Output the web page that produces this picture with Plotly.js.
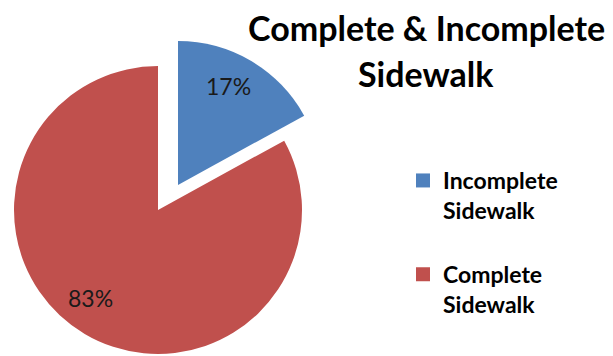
<!DOCTYPE html>
<html>
<head>
<meta charset="utf-8">
<script src="https://cdn.plot.ly/plotly-3.0.1.min.js"></script>
<style>html,body{margin:0;padding:0;background:#fff;}#chart{width:613px;height:356px;}</style>
</head>
<body>
<div id="chart"></div>
<script>
// ---- data ----
const categories = ["Incomplete<br>Sidewalk", "Complete<br>Sidewalk"];
const values = [17, 83];
const sliceColors = ["#4F81BD", "#C0504D"];
const titleLines = ["Complete & Incomplete", "Sidewalk"];

// ---- geometry (pixels) ----
const W = 613, H = 356;
const R = 144;
const centres = [[178, 185], [158, 210]]; // exploded slice, main body
function domainFor(cx, cy, r) {
  return {
    x: [(cx - r) / W, (cx + r) / W],
    y: [(H - (cy + r)) / H, (H - (cy - r)) / H]
  };
}
const clear = "rgba(0,0,0,0)";
const FONT = "Lato, 'Open Sans', sans-serif";

function pieTrace(k) {
  return {
    type: "pie", labels: categories, values: values, sort: false,
    direction: "clockwise", rotation: 0,
    marker: {colors: sliceColors.map((c, i) => i === k ? c : clear), line: {width: 0}},
    textinfo: "none",
    domain: domainFor(centres[k][0], centres[k][1], R),
    showlegend: false, hoverinfo: "label+percent"
  };
}

// percent labels placed near each slice's bisector
const total = values.reduce((a, b) => a + b, 0);
const labelTurn = [-0.06, 0.12]; // small angular offsets (radians) as in the reference
let cum = 0;
const pctAnnotations = values.map((v, i) => {
  const mid = (cum + v / 2) / total * 2 * Math.PI + labelTurn[i]; cum += v;
  const d = 0.77 * R;
  const px = centres[i][0] + d * Math.sin(mid);
  const py = centres[i][1] - d * Math.cos(mid);
  return {
    text: Math.round(v / total * 100) + "%", showarrow: false,
    xref: "paper", yref: "paper", x: px / W, y: 1 - py / H,
    xanchor: "center", yanchor: "middle",
    font: {family: FONT, size: 23, color: "#1a1a1a"}
  };
});

const titleAnnotations = titleLines.map((t, i) => ({
  text: t, showarrow: false, xref: "paper", yref: "paper",
  x: 426 / W, y: 1 - [27, 73][i] / H, xanchor: "center", yanchor: "middle",
  font: {family: FONT, size: 34, color: "#000", weight: "bold"}
}));

// legend entries
const legendTraces = categories.map((c, i) => ({
  type: "scatter", mode: "markers", x: [null], y: [null], name: c,
  legendgroup: "g" + i,
  marker: {symbol: "square", size: 14, color: sliceColors[i]},
  hoverinfo: "skip"
}));

const layout = {
  width: W, height: H,
  margin: {l: 0, r: 0, t: 0, b: 0},
  paper_bgcolor: "#fff", plot_bgcolor: "#fff",
  xaxis: {visible: false}, yaxis: {visible: false},
  annotations: titleAnnotations.concat(pctAnnotations),
  legend: {
    x: 403 / W, xanchor: "left", y: 1 - 159 / H, yanchor: "top",
    font: {family: FONT, size: 23, color: "#000", weight: "bold"},
    traceorder: "grouped", tracegroupgap: 31, valign: "top",
    bgcolor: clear
  },
  showlegend: true
};

Plotly.newPlot("chart", [pieTrace(1), pieTrace(0)].concat(legendTraces), layout, {displayModeBar: false, staticPlot: true});
</script>
</body>
</html>
